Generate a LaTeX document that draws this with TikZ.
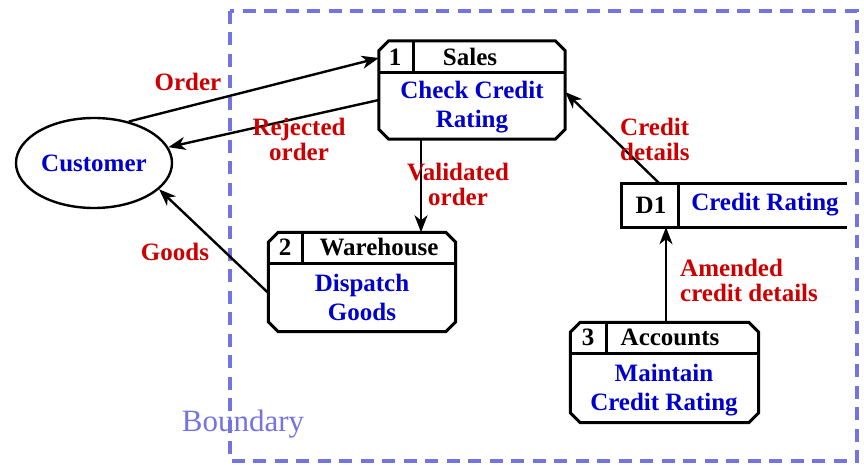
\documentclass[tikz,border=0pt]{standalone}
\usepackage{fontspec}
\setmainfont{Liberation Serif}
\usetikzlibrary{shapes.geometric,arrows.meta,calc}
\definecolor{flowred}{RGB}{204,0,0}
\definecolor{procblue}{RGB}{0,0,204}
\definecolor{boundcol}{RGB}{115,115,225}
\tikzset{
  txt/.style={font=\fontsize{25}{29}\selectfont\bfseries, inner sep=0pt},
  flowlabel/.style={txt, font=\fontsize{25}{25}\selectfont\bfseries, text=flowred},
  proclabel/.style={txt, text=procblue, align=center},
  headlabel/.style={txt, text=black},
  procarea/.style={rectangle, inner sep=0pt},
  partline/.style={line width=3pt},
  flow/.style={line width=2.4pt, -{Stealth[length=17pt,width=13pt,inset=5pt]}},
  boundary/.style={draw=boundcol, line width=3.3pt, dash pattern=on 13pt off 8.5pt},
}
% outline of a process box with cut corners, drawn round a named node
\newcommand\chamferbox[1]{%
  \draw[partline] ([xshift=10pt]#1.north west) -- ([xshift=-10pt]#1.north east)
    -- ([yshift=-10pt]#1.north east) -- ([yshift=10pt]#1.south east)
    -- ([xshift=-10pt]#1.south east) -- ([xshift=10pt]#1.south west)
    -- ([yshift=10pt]#1.south west) -- ([yshift=-10pt]#1.north west) -- cycle;}
\begin{document}
\begin{tikzpicture}[x=1pt,y=-1pt]
\useasboundingbox (0,0) rectangle (864,465);

% system boundary
\draw[boundary] (230,11) rectangle (857,461);
\node[txt, font=\fontsize{31}{36}\selectfont, text=boundcol] (blabel) at (243,424) {Boundary};

% external entity
\node[ellipse, draw, line width=2.4pt, minimum width=156pt, minimum height=90pt,
  inner sep=0pt, proclabel] (cust) at (94,163) {Customer};

% process 1
\node[procarea, minimum width=186pt, minimum height=98pt] (p1) at (472,90) {};
\chamferbox{p1}
\draw[partline] (379,73) -- (565,73);
\draw[partline] (413,41) -- (413,73);
\node[headlabel] (p1n) at (395,57) {1};
\node[headlabel] (p1t) at (470,57) {Sales};
\node[proclabel] (p1b) at (472,107) {Check Credit\\Rating};

% process 2
\node[procarea, minimum width=187pt, minimum height=99pt] (p2) at (362,282) {};
\chamferbox{p2}
\draw[partline] (268.5,263) -- (455.5,263);
\draw[partline] (302,232.5) -- (302,263);
\node[headlabel] (p2n) at (285,247) {2};
\node[headlabel] (p2t) at (379,247) {Warehouse};
\node[proclabel] (p2b) at (362,297.5) {Dispatch\\Goods};

% process 3
\node[procarea, minimum width=188pt, minimum height=100pt] (p3) at (664.5,372.5) {};
\chamferbox{p3}
\draw[partline] (570.5,353) -- (758.5,353);
\draw[partline] (606,322.5) -- (606,353);
\node[headlabel] (p3n) at (588,337) {3};
\node[headlabel] (p3t) at (670,337) {Accounts};
\node[proclabel] (p3b) at (664,390) {Maintain\\Credit Rating};

% data store
\node[procarea, minimum width=225pt, minimum height=43pt] (d1) at (734.5,205.5) {};
\draw[partline] (d1.north east) -- (d1.north west) -- (d1.south west) -- (d1.south east);
\draw[partline] (678,184) -- (678,227);
\node[headlabel] (d1n) at (651,205) {D1};
\node[proclabel] (d1t) at (765,205) {Credit Rating};

% data flows
\draw[flow] (cust.50) -- ([yshift=32pt]p1.west);
\draw[flow] ([yshift=-10pt]p1.west) -- (cust.12);
\draw[flow] ([yshift=-11pt]p2.west) -- (cust.-22);
\draw[flow] ([xshift=-51pt]p1.south) -- ([xshift=59pt]p2.north);
\draw[flow] ([xshift=38pt]d1.north west) -- ([yshift=-2pt]p1.east);
\draw[flow] ([xshift=1.5pt]p3.north) -- ([xshift=1.5pt]p3.north |- d1.south);

% flow labels
\node[flowlabel] (lorder) at (188,82) {Order};
\node[flowlabel, align=center] (lrej) at (299,139.5) {Rejected\\order};
\node[flowlabel] (lgoods) at (175,252) {Goods};
\node[flowlabel, align=center] (lval) at (458,184) {Validated\\order};
\node[flowlabel, align=left, anchor=west] (lcred) at (620,139) {Credit\\details};
\node[flowlabel, align=left, anchor=west] (lamend) at (680,280.5) {Amended\\credit details};
\end{tikzpicture}
\end{document}
